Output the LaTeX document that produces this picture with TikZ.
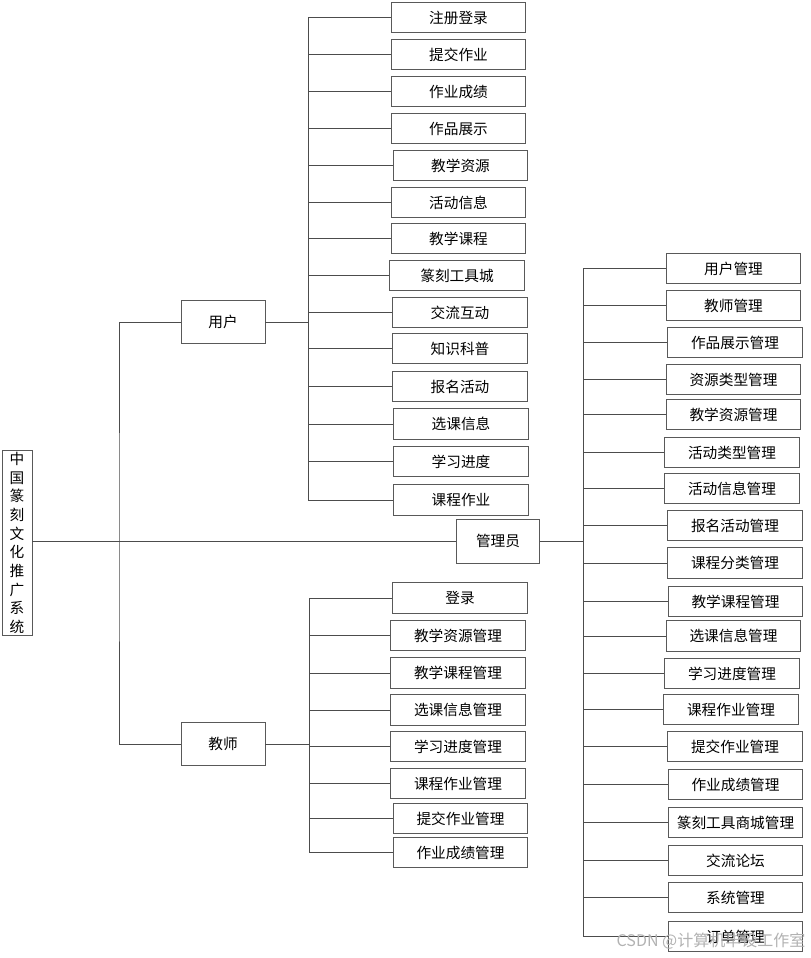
\documentclass[tikz,border=0pt]{standalone}
\usepackage{fontspec}
\setmainfont{Noto Sans CJK SC}
\tikzset{
  box/.style={draw=black!65, line width=0.7pt, fill=white, minimum width=101pt,
    minimum height=23pt, inner sep=0pt, font=\fontsize{11}{13}\selectfont},
  link/.style={draw=black!70, line width=0.7pt}
}
\begin{document}
\begin{tikzpicture}[x=0.75pt,y=-0.75pt]
  \useasboundingbox (0,0) rectangle (811,958);
  % top levels
  \node[box, minimum width=22.5pt, minimum height=139pt, align=center,
    font=\fontsize{11}{14}\selectfont] (root) at (17,543)
    {中\\国\\篆\\刻\\文\\化\\推\\广\\系\\统};
  \node[box, minimum width=63pt, minimum height=32pt] (user) at (223,322) {用户};
  \node[box, minimum width=63pt, minimum height=32pt] (teacher) at (223,744) {教师};
  \node[box, minimum width=62pt, minimum height=33pt] (admin) at (498,541) {管理员};
  \coordinate (trunk) at (119,541);
  \coordinate (utrunk) at (308,0);
  \coordinate (ttrunk) at (309,0);
  \coordinate (atrunk) at (583,0);
  \draw[link] (root.east |- admin) -- (admin.west);
  \draw[link] (user.west) -| (trunk) |- (teacher.west);
  % user
  \foreach \x/\y/\t [count=\i] in {458.5/17.5/注册登录, 458.5/54.5/提交作业,
      458.5/91.5/作业成绩, 458.5/128.5/作品展示, 460.5/165.5/教学资源,
      458.5/202.5/活动信息, 458.5/238.5/教学课程, 457/275.5/篆刻工具城,
      460/312.5/交流互动, 460/348.5/知识科普, 460/386.5/报名活动,
      461/424/选课信息, 461/461.5/学习进度, 461/500/课程作业} {
    \node[box] (u\i) at (\x,\y) {\t};
    \draw[link] (u\i.west) -- (u\i.west -| utrunk);
  }
  \draw[link] (u1.west -| utrunk) -- (u14.west -| utrunk);
  \draw[link] (user.east) -- (user.east -| utrunk);
  % teacher
  \foreach \x/\y/\t [count=\i] in {460/598/登录, 458/635.5/教学资源管理,
      458/673/教学课程管理, 458/710/选课信息管理, 458/746.5/学习进度管理,
      458/783.5/课程作业管理, 460.5/818.5/提交作业管理, 460.5/852.5/作业成绩管理} {
    \node[box] (t\i) at (\x,\y) {\t};
    \draw[link] (t\i.west) -- (t\i.west -| ttrunk);
  }
  \draw[link] (t1.west -| ttrunk) -- (t8.west -| ttrunk);
  \draw[link] (teacher.east) -- (teacher.east -| ttrunk);
  % admin
  \foreach \x/\y/\t [count=\i] in {733.5/268.5/用户管理, 733.5/305.5/教师管理,
      735/342.5/作品展示管理, 733.5/379.5/资源类型管理, 733.5/414.5/教学资源管理,
      732/452.5/活动类型管理, 732/488.5/活动信息管理, 735/525.5/报名活动管理,
      735/563/课程分类管理, 735.5/601.5/教学课程管理, 733.5/636/选课信息管理,
      732/673.5/学习进度管理, 731/709.5/课程作业管理, 735/746.5/提交作业管理,
      735.5/784.5/作业成绩管理, 735.5/822.5/篆刻工具商城管理, 735.5/860.5/交流论坛,
      735.5/897.5/系统管理, 735.5/936.5/订单管理} {
    \node[box] (a\i) at (\x,\y) {\t};
    \draw[link] (a\i.west) -- (a\i.west -| atrunk);
  }
  \draw[link] (a1.west -| atrunk) -- (a19.west -| atrunk);
  \draw[link] (admin.east) -- (admin.east -| atrunk);
  % watermark
  \node[text=black!30, font=\fontsize{12}{14}\selectfont, inner sep=0pt] (wm)
    at (711,941) {CSDN @计算机毕设工作室};
\end{tikzpicture}
\end{document}
